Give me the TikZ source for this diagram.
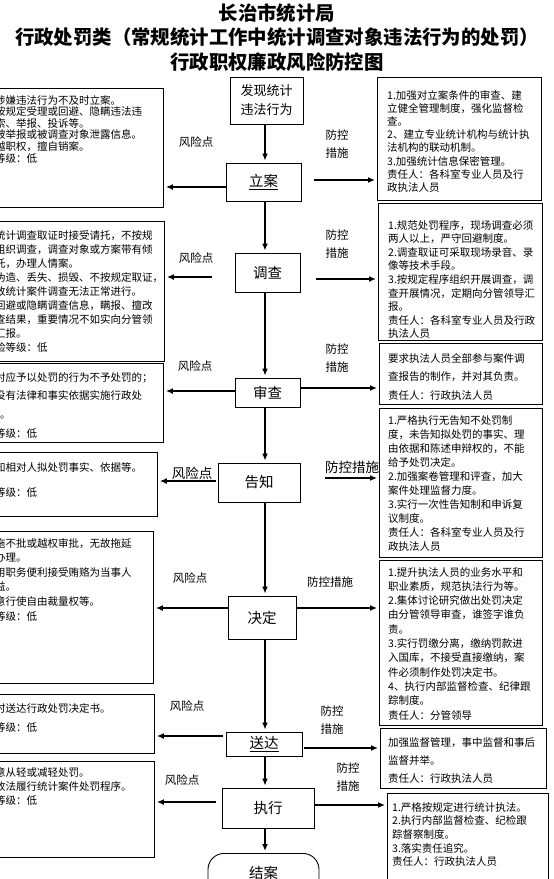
\documentclass[tikz,border=0pt]{standalone}
\usepackage{fontspec}
\newfontfamily\cjk{Noto Sans CJK SC}
\usetikzlibrary{arrows.meta}
\tikzstyle{stage}=[draw,line width=0.9pt,font=\cjk\fontsize{14.5}{17}\selectfont,inner sep=0pt]
\tikzstyle{sidebox}=[draw,line width=0.9pt,anchor=north west,inner sep=0pt]
\tikzstyle{edge} = [draw,line width=1.5pt,-{Latex[length=7pt,width=6pt]},shorten >=2pt]
\tikzstyle{tag} = [font=\cjk\fontsize{11.5}{18}\selectfont,align=center,inner sep=0pt]
\tikzstyle{bigtag} = [font=\cjk\fontsize{13.5}{18}\selectfont,inner sep=0pt]
\tikzset{note/.style={font=\cjk\fontsize{10.5}{#1}\selectfont,align=left,inner sep=0pt,anchor=north west}}

\begin{document}
\begin{tikzpicture}[x=1pt,y=-1pt]
    \clip (0,0) rectangle (554,879);
    % Title
    \node[font=\cjk\bfseries\fontsize{19.4}{24.5}\selectfont, align=center] (title) at (277,37.5)
        {长治市统计局\\行政处罚类（常规统计工作中统计调查对象违法行为的处罚）\\行政职权廉政风险防控图};

    % First we draw the stages
    \node[stage, minimum width=73pt, minimum height=47pt, align=left, font=\cjk\fontsize{13}{19}\selectfont] (find) at (266.5,100.5) {发现统计\\违法行为};
    \foreach \pos/\name/\w/\h/\txt in {{(263.5,182)/lian/75/38/{\underline{立案}}}, {(267.5,272.5)/diaocha/65/39/调查},
        {(267.5,392.5)/shencha/65/29/审查}, {(259,482.5)/gaozhi/82/39/告知}, {(262,617.5)/jueding/68/43/决定},
        {(264,744)/songda/76/24/{\underline{送达}}}, {(268,808)/zhixing/92/40/执行}}
        \node[stage, minimum width=\w pt, minimum height=\h pt] (\name) at \pos {\txt};
    \node[stage, rounded corners=16pt, minimum width=111pt, minimum height=52pt, text height=20pt, text depth=22pt, anchor=north] (jiean) at (263.5,853) {结案};

    % Boxes for risk points and control measures
    \foreach \pos/\name/\w/\h in {{(-5,88)/risk1/168/119}, {(-5,221)/risk2/169/140}, {(-5,363)/risk3/168/79},
        {(-5,452)/risk4/162/64}, {(-5,531)/risk5/158/152}, {(-5,694)/risk6/159/59}, {(-5,761)/risk7/159/96},
        {(377,77)/ctrl1/164/123}, {(378,203)/ctrl2/164/137}, {(379,343)/ctrl3/163/61}, {(379,408)/ctrl4/163/149},
        {(379,560)/ctrl5/163/165}, {(380,728)/ctrl6/166/60}, {(387,793)/ctrl7/161/120}}
        \node[sidebox, minimum width=\w pt, minimum height=\h pt] (\name) at \pos {};

    % Texts of the risk points
    \node[note=11.6] (risk1txt) at (-5,95) {涉嫌违法行为不及时立案。\\按规定受理或回避、隐瞒违法违\\索、举报、投诉等。\\被举报或被调查对象泄露信息。\\越职权，擅自销案。\\等级：低};
    \node[note=14] (risk2txt) at (-5,230) {统计调查取证时接受请托，不按规\\组织调查，调查对象或方案带有倾\\托，办理人情案。\\伪造、丢失、损毁、不按规定取证，\\致统计案件调查无法正常进行。\\回避或隐瞒调查信息，瞒报、擅改\\查结果，重要情况不如实向分管领\\汇报。\\险等级：低};
    \node[note=18.7] (risk3txt) at (-5,372) {对应予以处罚的行为不予处罚的；\\没有法律和事实依据实施行政处\\\hspace{5pt}。\\等级：低};
    \node[note=25] (risk4txt) at (-5,462) {知相对人拟处罚事实、依据等。\\等级：低};
    \node[note=14.6] (risk5txt) at (-5,538) {拖不批或越权审批，无故拖延\\办理。\\用职务便利接受贿赂为当事人\\益。\\意行使自由裁量权等。\\等级：低};
    \node[note=19] (risk6txt) at (-5,703) {时送达行政处罚决定书。\\等级：低};
    \node[note=14] (risk7txt) at (-5,767) {意从轻或减轻处罚。\\故法履行统计案件处罚程序。\\等级：低};

    % Texts of the control measures
    \node[note=13.2] (ctrl1txt) at (387,90) {1.加强对立案条件的审查、建\\立健全管理制度，强化监督检\\查。\\2、建立专业统计机构与统计执\\法机构的联动机制。\\3.加强统计信息保密管理。\\责任人：各科室专业人员及行\\政执法人员};
    \node[note=13.6] (ctrl2txt) at (388,220) {1.规范处罚程序，现场调查必须\\两人以上，严守回避制度。\\2.调查取证可采取现场录音、录\\像等技术手段。\\3.按规定程序组织开展调查，调\\查开展情况，定期向分管领导汇\\报。\\责任人：各科室专业人员及行政\\执法人员};
    \node[note=18.5] (ctrl3txt) at (388,353) {要求执法人员全部参与案件调\\查报告的制作，并对其负责。\\责任人：行政执法人员};
    \node[note=14.1] (ctrl4txt) at (388,415) {1.严格执行无告知不处罚制\\度，未告知拟处罚的事实、理\\由依据和陈述申辩权的，不能\\给予处罚决定。\\2.加强案卷管理和评查，加大\\案件处理监督力度。\\3.实行一次性告知制和申诉复\\议制度。\\责任人：各科室专业人员及行\\政执法人员};
    \node[note=14.3] (ctrl5txt) at (388,567) {1.提升执法人员的业务水平和\\职业素质，规范执法行为等。\\2.集体讨论研究做出处罚决定\\由分管领导审查，谁签字谁负\\责。\\3.实行罚缴分离，缴纳罚款进\\入国库，不接受直接缴纳，案\\件必须制作处罚决定书。\\4、执行内部监督检查、纪律跟\\踪制度。\\责任人：分管领导};
    \node[note=18] (ctrl6txt) at (388,737) {加强监督管理，事中监督和事后\\监督并举。\\责任人：行政执法人员};
    \node[note=13.7] (ctrl7txt) at (392,802) {1.严格按规定进行统计执法。\\2.执行内部监督检查、纪检跟\\踪督察制度。\\3.落实责任追究。\\责任人：行政执法人员};

    % Labels beside the connectors
    \foreach \pos/\name in {{(196,142)/risktag1}, {(196,258)/risktag2}, {(195,366)/risktag3},
        {(190,578)/risktag5}, {(187,706)/risktag6}, {(182,780)/risktag7}}
        \node[tag] (\name) at \pos {风险点};
    \foreach \pos/\name in {{(337,144)/ctrltag1}, {(337,244)/ctrltag2}, {(337,358.5)/ctrltag3},
        {(332,720)/ctrltag6}, {(348,777.5)/ctrltag7}}
        \node[tag] (\name) at \pos {防控\\措施};
    \node[tag] (ctrltag5) at (330,582) {防控措施};
    \node[bigtag] (risktag4) at (192,473) {风险点};
    \node[bigtag] (ctrltag4) at (352,467) {防控措施};

    % Connect the stages down the middle
    \coordinate (axis) at (265,0);
    \foreach \a/\b in {find/lian, lian/diaocha, diaocha/shencha, shencha/gaozhi, gaozhi/jueding,
        jueding/songda, songda/zhixing, zhixing/jiean}
        \path[edge] (axis |- \a.south) -- (axis |- \b.north);

    % Risk points to the left
    \foreach \s/\r/\dy/\gap in {lian/risk1/-5/0, diaocha/risk2/-4.5/23, shencha/risk3/1.5/0, gaozhi/risk4/1.5/2,
        jueding/risk5/9.5/0, songda/risk6/8/3, zhixing/risk7/6/6}
        \path[edge, shorten <=\gap pt] ([yshift=\dy pt]\s.west) coordinate (from) -- (from -| \r.east);

    % Control measures to the right
    \foreach \s/\c/\dy/\gap in {lian/ctrl1/2/13, diaocha/ctrl2/-6.5/16, shencha/ctrl3/4.5/0, gaozhi/ctrl4/4.5/25,
        jueding/ctrl5/9.5/0, songda/ctrl6/-4/2, zhixing/ctrl7/3/0}
        \path[edge, shorten <=\gap pt] ([yshift=\dy pt]\s.east) coordinate (from) -- (from -| \c.west);
\end{tikzpicture}
\end{document}
